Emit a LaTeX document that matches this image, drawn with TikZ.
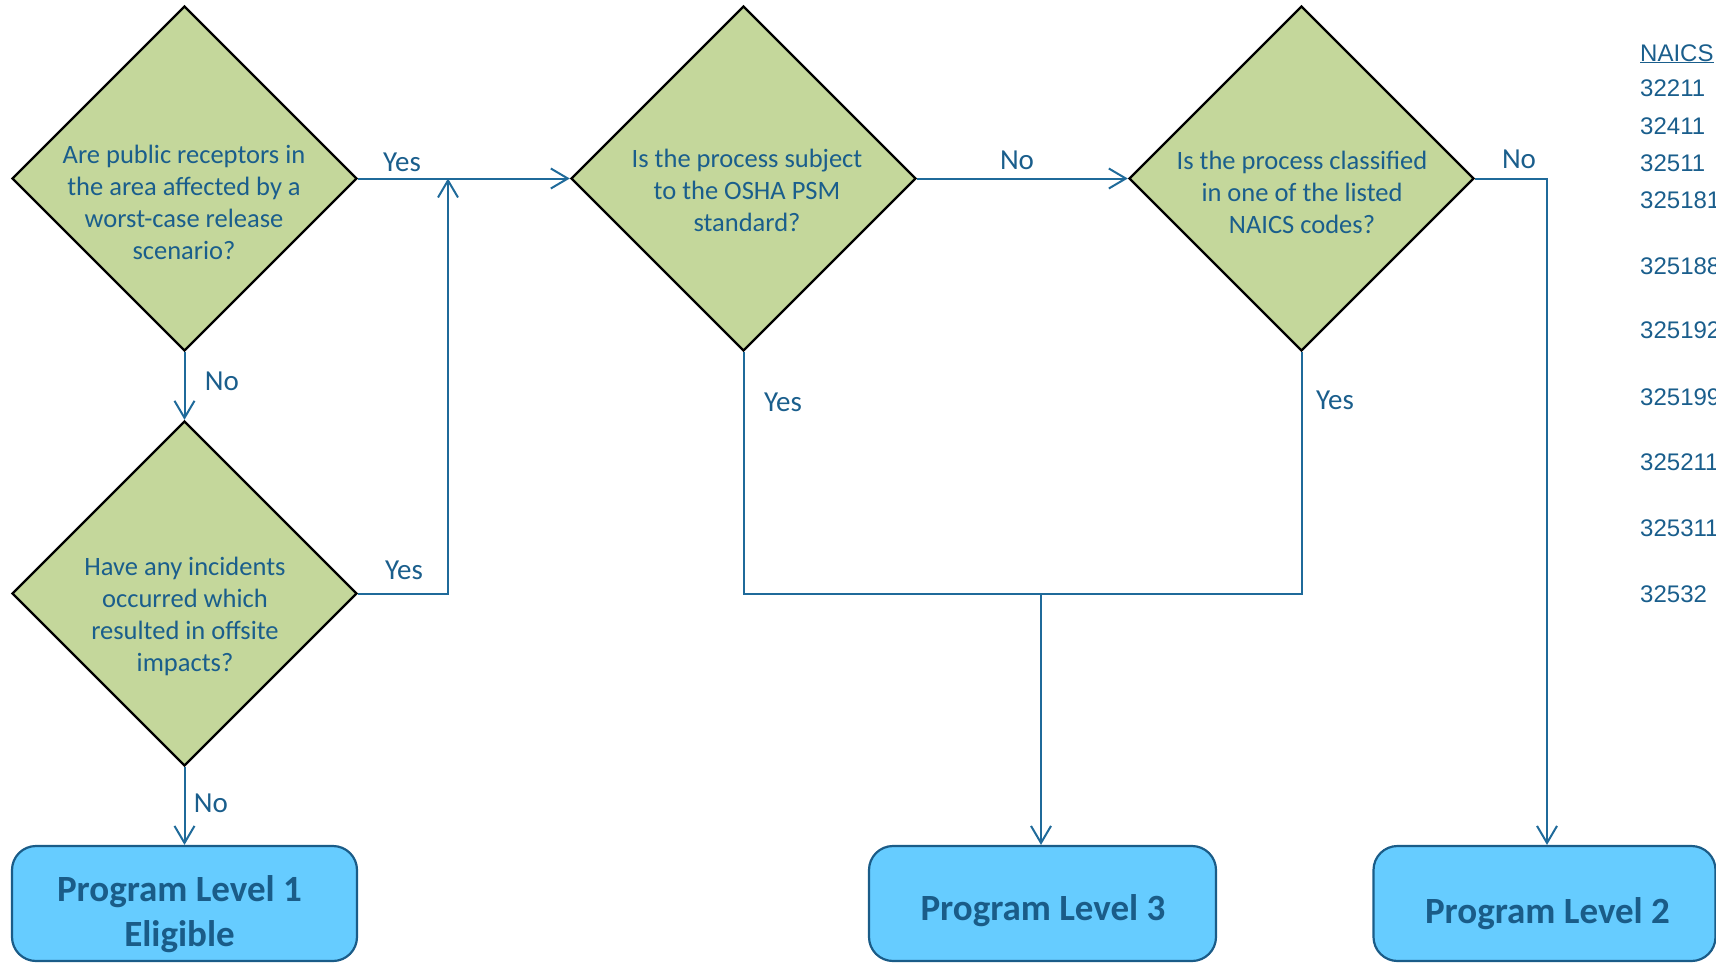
\documentclass[tikz,border=0pt]{standalone}
\usepackage{fontspec}
\setmainfont{Carlito}
\newfontfamily\arialfont{Liberation Sans}
\usetikzlibrary{shapes.geometric,arrows.meta,calc}
\definecolor{txtblue}{HTML}{1A5E8C}
\definecolor{lineblue}{HTML}{1F6A9A}
\definecolor{boxborder}{HTML}{1A5C88}
\definecolor{boxfill}{HTML}{66CCFF}
\definecolor{dfill}{HTML}{C4D79B}
\tikzset{
  decision/.style={diamond, draw=black, line width=2.4pt, fill=dfill, minimum width=345pt, minimum height=345pt, inner sep=0pt, aspect=1},
  dtext/.style={align=center, text=txtblue, font=\fontsize{26.5}{32}\selectfont, inner sep=0pt},
  levelbox/.style={rectangle, rounded corners=24pt, draw=boxborder, line width=2.2pt, fill=boxfill, minimum height=115pt, inner sep=0pt},
  boxtext/.style={align=center, text=boxborder, font=\bfseries\fontsize{37}{45}\selectfont, inner sep=0pt},
  conn/.style={draw=lineblue, line width=2pt, -{Straight Barb[length=17pt,width=20pt,line width=2pt]}},
  plain/.style={draw=lineblue, line width=2pt},
  lbl/.style={text=txtblue, font=\fontsize{29}{32}\selectfont, inner sep=0pt},
  code/.style={text=txtblue, font=\arialfont\fontsize{24}{26}\selectfont, inner sep=0pt, anchor=west}
}
\begin{document}
\begin{tikzpicture}[x=1pt,y=-1pt]
\useasboundingbox (0,0) rectangle (1716,962);
% decisions
\node[decision] (d1) at (184.5,178.5) {};
\node[dtext] (t1) at (184,202) {Are public receptors in\\the area affected by a\\worst-case release\\scenario?};
\node[decision] (d2) at (184.5,593.5) {};
\node[dtext] (t2) at (185,616) {Have any incidents\\occurred which\\resulted in offsite\\impacts?};
\node[decision] (d3) at (743.5,178.5) {};
\node[dtext] (t3) at (747,190) {Is the process subject\\to the OSHA PSM\\standard?};
\node[decision] (d4) at (1301.5,178.5) {};
\node[dtext] (t4) at (1302,192) {Is the process classified\\in one of the listed\\NAICS codes?};
% result boxes
\node[levelbox, minimum width=345pt] (pl1) at (184.5,903.5) {};
\node[boxtext] (b1) at (179.5,914) {Program Level 1\\Eligible};
\node[levelbox, minimum width=347pt] (pl3) at (1042.5,903.5) {};
\node[boxtext] (b3) at (1043,911) {Program Level 3};
\node[levelbox, minimum width=342pt] (pl2) at (1544.5,903.5) {};
\node[boxtext] (b2) at (1547.5,914) {Program Level 2};
% helper coordinates
\coordinate (j1) at (448,178.5);
\coordinate (jb) at (1041,594);
\coordinate (j2) at (1547,178.5);
% connectors
\draw[conn] (d1.east) -- (d3.west);
\draw[conn] (d1.south) -- (d2.north);
\draw[conn] (d2.east) -| (j1);
\draw[conn] (d2.south) -- (d2.south |- pl1.north);
\draw[conn] (d3.east) -- (d4.west);
\draw[plain] (d3.south) -- (d3.south |- jb) -- (d4.south |- jb) -- (d4.south);
\draw[conn] (jb) -- (jb |- pl3.north);
\draw[conn] (d4.east) -- (j2) -- (j2 |- pl2.north);
% labels
\node[lbl] (l1) at (402,162) {Yes};
\node[lbl] (l2) at (222,381) {No};
\node[lbl] (l3) at (404,570) {Yes};
\node[lbl] (l4) at (211,803) {No};
\node[lbl] (l5) at (1017,160) {No};
\node[lbl] (l6) at (783,402) {Yes};
\node[lbl] (l7) at (1335,400) {Yes};
\node[lbl] (l8) at (1519,159) {No};
% NAICS column
\node[code, anchor=base west] (n0) at (1640,61) {\underline{NAICS}};
\node[code] (n1) at (1640,88.6) {32211};
\node[code] (n2) at (1640,125.9) {32411};
\node[code] (n3) at (1640,163.1) {32511};
\node[code] (n4) at (1640,200.3) {325181};
\node[code] (n5) at (1640,265.9) {325188};
\node[code] (n6) at (1640,330.5) {325192};
\node[code] (n7) at (1640,397.3) {325199};
\node[code] (n8) at (1640,461.8) {325211};
\node[code] (n9) at (1640,528.6) {325311};
\node[code] (n10) at (1640,594.3) {32532};
\end{tikzpicture}
\end{document}
